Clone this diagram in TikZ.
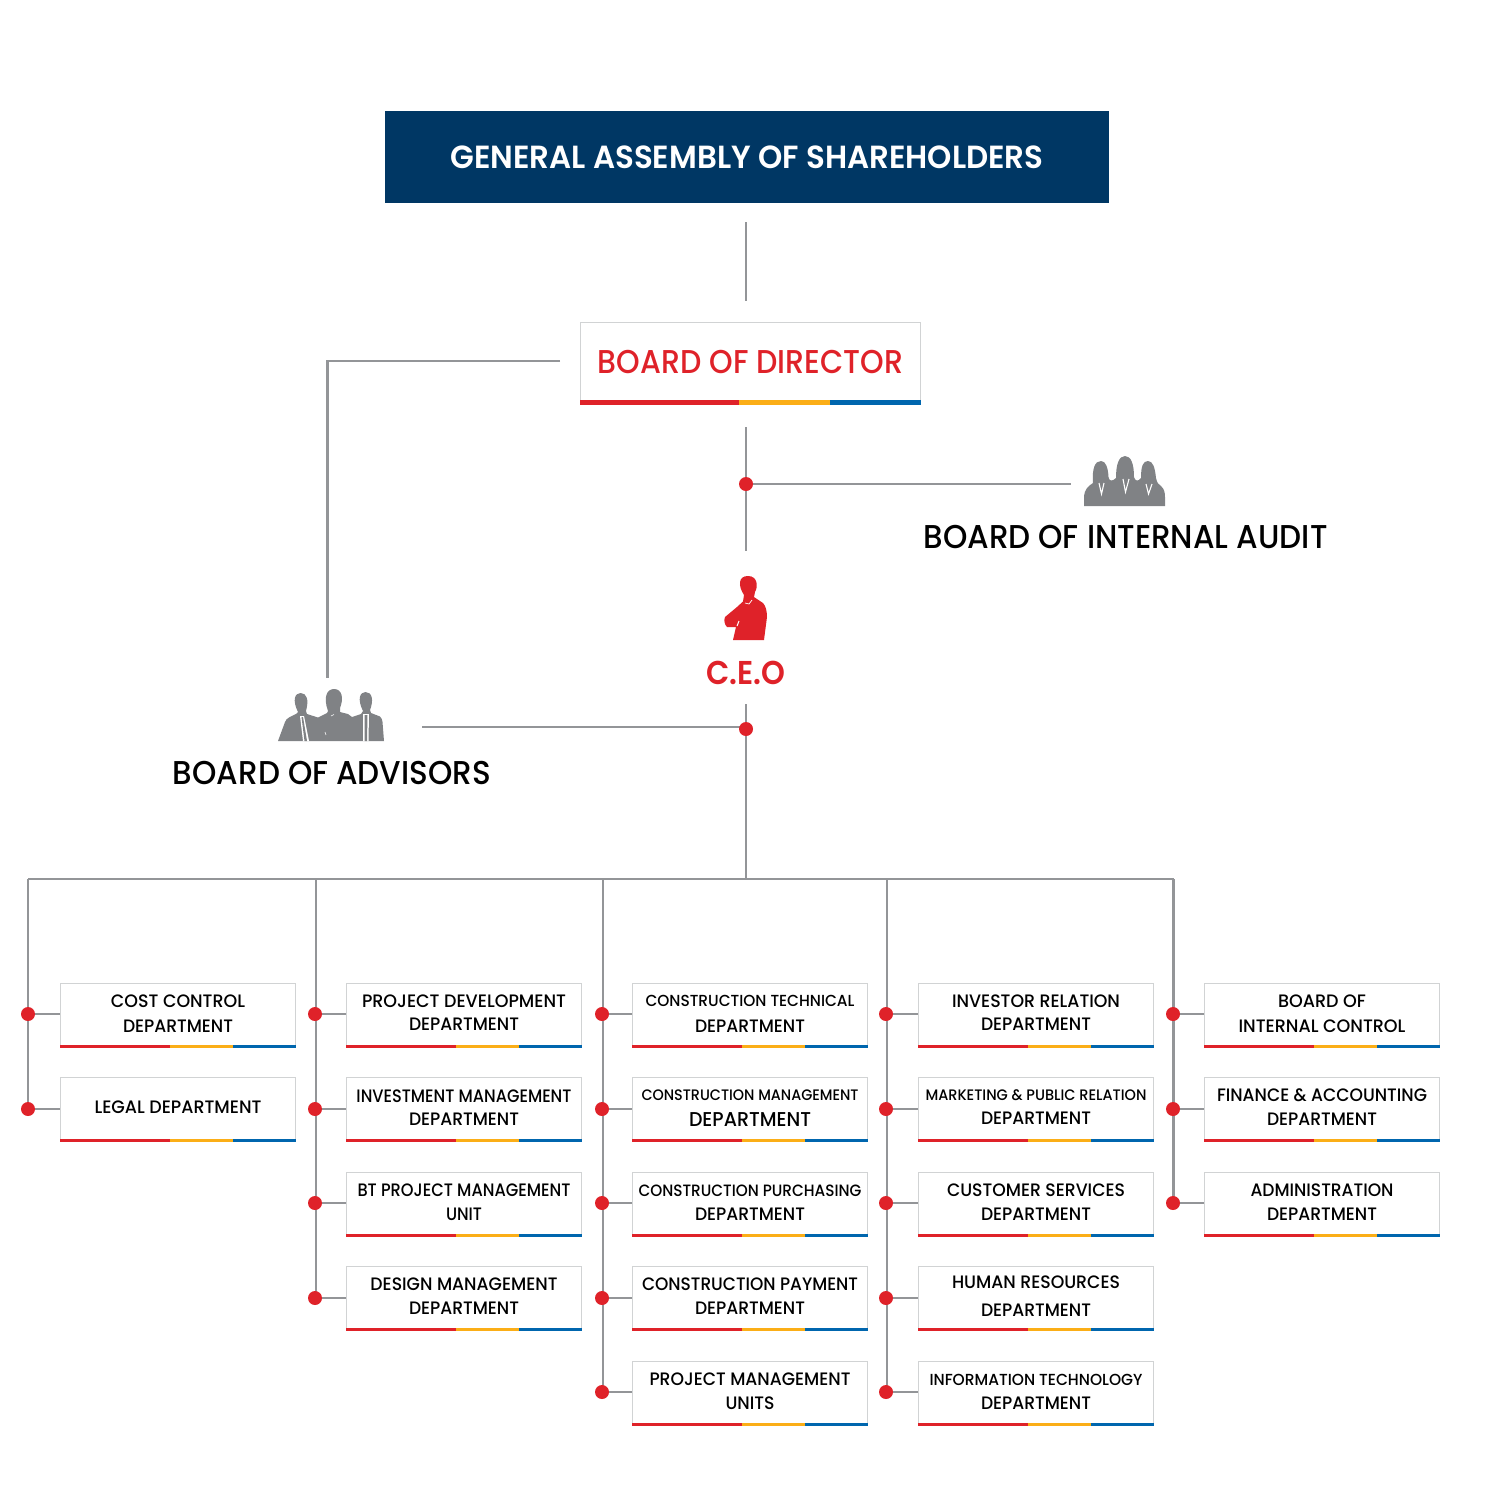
\documentclass[tikz,border=0pt]{standalone}
\usepackage{fontspec}
\usepackage{graphicx}
\setmainfont{Poppins Medium}
\newfontfamily\medfont{Poppins SemiBold}
\definecolor{cred}{HTML}{DF2229}
\definecolor{camber}{HTML}{FBAE17}
\definecolor{cblue}{HTML}{0066AE}
\definecolor{cline}{HTML}{939598}
\definecolor{cedge}{HTML}{D1D3D4}
\definecolor{cnavy}{HTML}{003764}
\definecolor{cicon}{HTML}{808285}
% a line of text fitted to a width given in reference pixels, height kept
\newcommand{\fw}[2]{\resizebox{\dimexpr #1pt/2\relax}{\height}{#2}}
\tikzset{
  conn/.style={draw=cline,line width=1.1pt},
  dot/.style={circle,fill=cred,minimum size=7pt,inner sep=0pt},
  dept/.style={draw=cedge,line width=0.5pt,fill=white,anchor=north west,minimum width=117.5pt,minimum height=32pt,inner sep=0pt,align=center,font=\fontsize{9}{12.2}\selectfont,text=black},
  heading/.style={inner sep=0pt,font=\fontsize{16.5}{20}\selectfont},
  iconfill/.style={fill=cicon},
}
\newcommand{\deptbox}[4]{%
  \node[dept] (#1) at (#2,#3) {#4};
  \begin{scope}[shift={(#2,#3)}]
    \fill[cred] (0,61.5) rectangle (110,65);
    \fill[camber] (110,61.5) rectangle (173,65);
    \fill[cblue] (173,61.5) rectangle (236,65);
  \end{scope}}
% optional first: raise; then gap between the lines
\newcommand{\two}[5][2.5pt]{\raisebox{#1}{\shortstack[c]{\fw{#2}{#3}\\[2.6pt]\fw{#4}{#5}}}}
\newcommand{\twog}[6]{\raisebox{#1}{\shortstack[c]{\fw{#3}{#4}\\[#2]\fw{#5}{#6}}}}
\begin{document}
\begin{tikzpicture}[x=0.5pt,y=-0.5pt]
\useasboundingbox (0,0) rectangle (1500,1500);
% top
\node[fill=cnavy,text=white,minimum width=362pt,minimum height=46pt,inner sep=0pt,anchor=north west,font=\medfont\fontsize{16}{20}\selectfont] (gen) at (384.5,111) {\fw{593}{GENERAL ASSEMBLY OF SHAREHOLDERS}};
\node[draw=cedge,line width=0.5pt,minimum width=170pt,minimum height=41pt,inner sep=0pt,anchor=north west,text=cred,font=\fontsize{16.5}{20}\selectfont] (bod) at (580,322) {\raisebox{1.5pt}{\fw{305}{BOARD OF DIRECTOR}}};
\begin{scope}[shift={(579.5,322)}]
  \fill[cred] (0,78) rectangle (159.5,82.5);
  \fill[camber] (159.5,78) rectangle (250.5,82.5);
  \fill[cblue] (250.5,78) rectangle (341,82.5);
\end{scope}
% named free ends
\coordinate (genend) at (746,222);
\coordinate (bodtop) at (746,301);
\coordinate (bodleft) at (560,361);
\coordinate (advtop) at (327.5,678);
\coordinate (bodbot) at (746,427);
\coordinate (ceotop) at (746,551);
\coordinate (auditend) at (1071,484);
\coordinate (ceobot) at (746,704);
\coordinate (advend) at (422,727);
\coordinate (bus) at (746,879);
\coordinate (sa) at (28,879);
\coordinate (sb) at (316,879);
\coordinate (sc) at (603,879);
\coordinate (sd) at (887,879);
\coordinate (se) at (1173.5,879);
\draw[conn] (genend) -- (bodtop);
\draw[conn] (bodleft) -| (advtop);
\draw[conn] (bodbot) -- (ceotop);
\draw[conn] (746,484) -- (auditend);
\node[dot] (dotaudit) at (746,484) {};
\draw[conn] (ceobot) -- (bus);
\draw[conn] (advend) -- (advend -| bus);
\node[dot] (dotadv) at (746,729) {};
\draw[conn] (sa) -- (se);
% labels
\node[heading] (lblaudit) at (1125.5,537) {\fw{404}{BOARD OF INTERNAL AUDIT}};
\node[heading] (lbladv) at (332,773) {\fw{318}{BOARD OF ADVISORS}};
\node[heading,font=\medfont\fontsize{16.5}{20}\selectfont,text=cred] (lblceo) at (746,672.5) {\fw{79}{C.E.O}};
% women icon
\path[iconfill] (1084,506) -- (1084,496) .. controls (1084.5,490) and (1088,486) .. (1093,483)
 .. controls (1092,468) and (1095,461) .. (1101,461) .. controls (1106,461) and (1108,468) .. (1108.5,477)
 .. controls (1109,481) and (1112,482) .. (1116,478)
 .. controls (1116,464) and (1119,456) .. (1125,456) .. controls (1131,456) and (1134,464) .. (1134,477)
 .. controls (1135,481) and (1138,482) .. (1141,478)
 .. controls (1141,466) and (1143,461) .. (1148,461) .. controls (1153,461) and (1155,468) .. (1156,478)
 .. controls (1157,483) and (1159,485) .. (1161,486)
 .. controls (1164,489) and (1165,492) .. (1165,497) -- (1165,506) -- cycle;
\draw[white,line width=0.55pt] (1099,483) -- (1101.5,494) -- (1104,483);
\draw[white,line width=0.55pt] (1123,479) -- (1125.5,492) -- (1129,479);
\draw[white,line width=0.55pt] (1146,484) -- (1148.5,494) -- (1152,484);
% men icon
\path[iconfill] (278,741) -- (285,722) .. controls (286,718) and (292,716) .. (296,714)
 -- (298,712) .. controls (292,700) and (295,693) .. (300.5,693) .. controls (307,693) and (309,700) .. (306,711)
 -- (307,714) -- (318,717.5) -- (327,713) -- (328,711)
 .. controls (323,697) and (327,689) .. (334,689) .. controls (342,689) and (344,698) .. (340,708)
 -- (340,712) -- (348,714) -- (352,717) -- (361,714) -- (363,711)
 .. controls (357,699) and (360,692) .. (365.5,692) .. controls (372,692) and (374,700) .. (370,710)
 -- (371,713) -- (380,716.5) .. controls (382,718) and (382,720) .. (382.5,722) -- (384,741) -- cycle;
\fill[white] (300,716) -- (304,716) -- (309,741) -- (303,741) -- cycle;
\fill[cicon] (301.5,717) -- (303,717) -- (307,741) -- (304.5,741) -- cycle;
\fill[white] (363,714) -- (369,714) -- (368.5,741) -- (363,741) -- cycle;
\fill[cicon] (364.5,715) -- (367.5,715) -- (367,741) -- (364.5,741) -- cycle;
\draw[white,line width=0.3pt] (331,716) -- (334,714.5);
\draw[white,line width=0.3pt] (325,732) -- (326,735);
% ceo icon
\fill[cred] (733,640) -- (736,627) -- (727,627) .. controls (724,624) and (724,620) .. (725,617)
 -- (737,607) -- (743,601.5) -- (744,595) .. controls (738,586) and (738,576) .. (748,576)
 .. controls (758,576) and (758,587) .. (755,592) -- (754,597) -- (763,603)
 .. controls (766,606) and (767,612) .. (767,617) -- (764,640) -- cycle;
\draw[white,line width=0.35pt] (745,603) -- (749,604) -- (752,600);
\draw[white,line width=0.5pt] (737,626) -- (739,621);
% spines
\coordinate (a2s) at (28,1109);
\draw[conn] (sa) -- (a2s);
\draw[conn] (sb) -- (316,1298);
\draw[conn] (sc) -- (603,1392);
\draw[conn] (sd) -- (887,1392);
\draw[conn] (se) -- (1173.5,1203);
% departments column 1
\node[dot] (a1) at (28,1014) {};
\node[dot] (a2) at (28,1109) {};
\deptbox{da1}{60}{983}{\twog{2pt}{3.1pt}{134}{COST CONTROL}{110}{DEPARTMENT}}
\deptbox{da2}{60}{1077}{\raisebox{2pt}{\fw{167}{LEGAL DEPARTMENT}}}
\foreach \d/\b in {a1/da1,a2/da2} \draw[conn] (\d) -- (\d -| \b.west);
% column 2
\node[dot] (b1) at (315,1014) {};
\node[dot] (b2) at (315,1109) {};
\node[dot] (b3) at (315,1203) {};
\node[dot] (b4) at (315,1298) {};
\deptbox{db1}{346}{983}{\twog{2.5pt}{2.3pt}{204}{PROJECT DEVELOPMENT}{110}{DEPARTMENT}}
\deptbox{db2}{346}{1077}{\twog{2pt}{2.1pt}{215}{INVESTMENT MANAGEMENT}{110}{DEPARTMENT}}
\deptbox{db3}{346}{1172}{\two{213}{BT PROJECT MANAGEMENT}{36}{UNIT}}
\deptbox{db4}{346}{1266}{\two{187}{DESIGN MANAGEMENT}{110}{DEPARTMENT}}
\foreach \d/\b in {b1/db1,b2/db2,b3/db3,b4/db4} \draw[conn] (\d) -- (\d -| \b.west);
% column 3
\node[dot] (c1) at (602,1014) {};
\node[dot] (c2) at (602,1109) {};
\node[dot] (c3) at (602,1203) {};
\node[dot] (c4) at (602,1298) {};
\node[dot] (c5) at (602,1392) {};
\deptbox{dc1}{632}{983}{\twog{1.5pt}{3.6pt}{209}{\fontsize{8}{10}\selectfont CONSTRUCTION TECHNICAL}{110}{DEPARTMENT}}
\deptbox{dc2}{632}{1077}{\twog{1.5pt}{2.9pt}{217}{\fontsize{7.6}{10}\selectfont CONSTRUCTION MANAGEMENT}{122}{\fontsize{10}{12}\selectfont DEPARTMENT}}
\deptbox{dc3}{632}{1172}{\twog{2pt}{2.6pt}{223}{\fontsize{8.2}{10}\selectfont CONSTRUCTION PURCHASING}{110}{DEPARTMENT}}
\deptbox{dc4}{632}{1266}{\two{216}{CONSTRUCTION PAYMENT}{110}{DEPARTMENT}}
\deptbox{dc5}{632}{1361}{\two{201}{PROJECT MANAGEMENT}{49}{UNITS}}
\foreach \d/\b in {c1/dc1,c2/dc2,c3/dc3,c4/dc4,c5/dc5} \draw[conn] (\d) -- (\d -| \b.west);
% column 4
\node[dot] (d1) at (886,1014) {};
\node[dot] (d2) at (886,1109) {};
\node[dot] (d3) at (886,1203) {};
\node[dot] (d4) at (886,1298) {};
\node[dot] (d5) at (886,1392) {};
\deptbox{dd1}{918}{983}{\twog{2.5pt}{2.3pt}{168}{INVESTOR RELATION}{110}{DEPARTMENT}}
\deptbox{dd2}{918}{1077}{\twog{2pt}{2.6pt}{221}{\fontsize{7.6}{10}\selectfont MARKETING \& PUBLIC RELATION}{110}{DEPARTMENT}}
\deptbox{dd3}{918}{1172}{\two{178}{CUSTOMER SERVICES}{110}{DEPARTMENT}}
\deptbox{dd4}{918}{1266}{\twog{2.5pt}{4.6pt}{168}{HUMAN RESOURCES}{110}{DEPARTMENT}}
\deptbox{dd5}{918}{1361}{\twog{2pt}{2.6pt}{213}{\fontsize{8}{10}\selectfont INFORMATION TECHNOLOGY}{110}{DEPARTMENT}}
\foreach \d/\b in {d1/dd1,d2/dd2,d3/dd3,d4/dd4,d5/dd5} \draw[conn] (\d) -- (\d -| \b.west);
% column 5
\node[dot] (e1) at (1173,1014) {};
\node[dot] (e2) at (1173,1109) {};
\node[dot] (e3) at (1173,1203) {};
\deptbox{de1}{1204}{983}{\twog{1.5pt}{3.1pt}{88}{BOARD OF}{167}{INTERNAL CONTROL}}
\deptbox{de2}{1204}{1077}{\two[2.5pt]{210}{FINANCE \& ACCOUNTING}{110}{DEPARTMENT}}
\deptbox{de3}{1204}{1172}{\two{143}{ADMINISTRATION}{110}{DEPARTMENT}}
\foreach \d/\b in {e1/de1,e2/de2,e3/de3} \draw[conn] (\d) -- (\d -| \b.west);
\end{tikzpicture}
\end{document}
